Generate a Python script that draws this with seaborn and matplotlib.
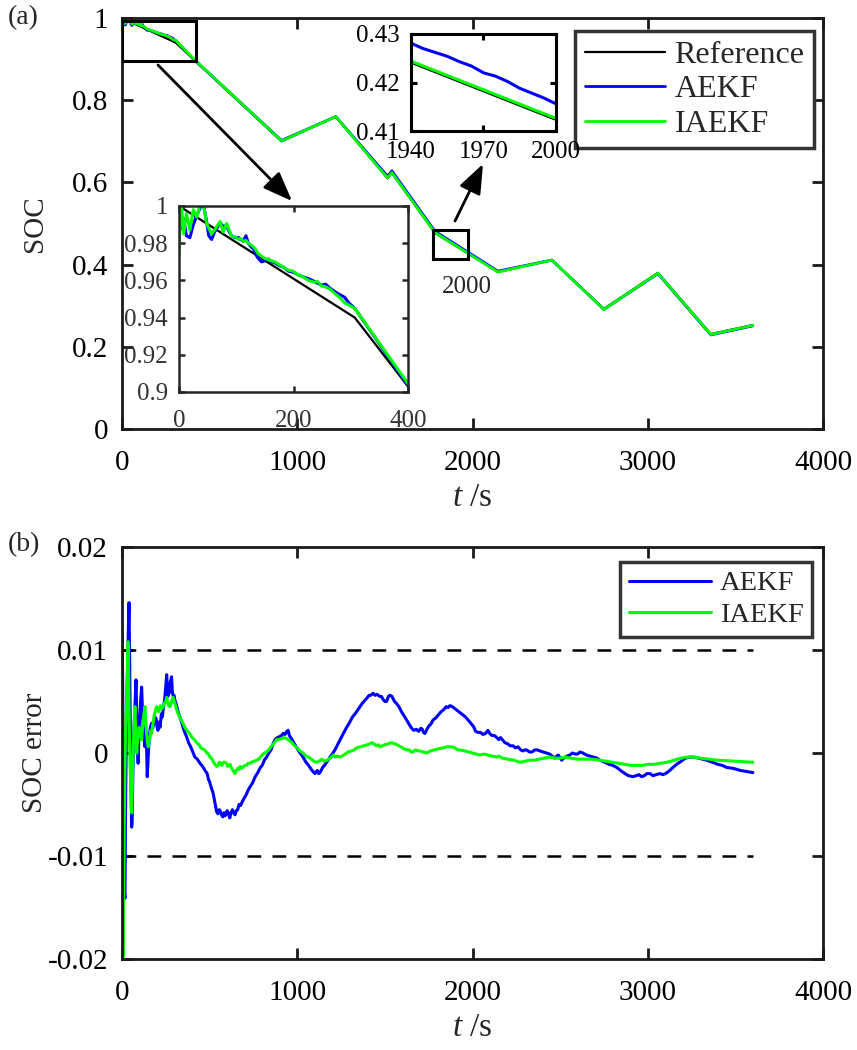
import numpy as np
import matplotlib
matplotlib.use("Agg")
import matplotlib.pyplot as plt
import seaborn as sns
from matplotlib.patches import Rectangle, FancyArrowPatch

# ---------------- data ----------------
# Reference SOC (piecewise profile)
ref_t = [0, 307, 910, 1220, 1515, 1540, 1786, 2145, 2453, 2750, 3058, 3360, 3600]
ref_soc = [1.0, 0.940, 0.700, 0.760, 0.610, 0.623, 0.477, 0.382, 0.411, 0.292, 0.380, 0.231, 0.253]

# Estimated SOC, first 400 s (zoomed inset 1)
early_t = [0, 2, 4, 8, 13, 19, 25, 31, 37, 42, 48, 52, 57, 62, 66, 72, 77, 83, 88, 92, 98, 104,
           108, 112, 117, 121, 126, 130, 134, 138, 144, 150, 156, 162, 167, 175, 183, 191, 199,
           208, 216, 226, 236, 242, 249, 256, 263, 272, 280, 289, 298, 307, 400]
early_aekf = [0.985, 0.996, 0.988, 0.993, 0.984, 0.983, 0.990, 0.995, 0.999, 1.002, 0.992, 0.984,
              0.982, 0.986, 0.988, 0.991, 0.989, 0.9895, 0.986, 0.984, 0.983, 0.983, 0.982, 0.981,
              0.984, 0.980, 0.978, 0.977, 0.974, 0.972, 0.970, 0.9705, 0.9715, 0.9700, 0.9695,
              0.968, 0.967, 0.965, 0.9645, 0.963, 0.962, 0.961, 0.9595, 0.9585, 0.9575, 0.958,
              0.956, 0.954, 0.9525, 0.951, 0.9475, 0.945, 0.9036]
early_iaekf = [0.9736, 0.995, 1.001, 0.985, 0.996, 0.987, 0.998, 0.994, 1.001, 1.002, 0.991, 0.988,
               0.985, 0.987, 0.989, 0.9916, 0.986, 0.9906, 0.987, 0.9836, 0.9835, 0.982, 0.9825,
               0.981, 0.9815, 0.980, 0.979, 0.978, 0.9765, 0.9745, 0.973, 0.9718, 0.9712, 0.9705,
               0.970, 0.9685, 0.967, 0.9655, 0.965, 0.963, 0.962, 0.960, 0.959, 0.9595, 0.957,
               0.9565, 0.9555, 0.953, 0.951, 0.948, 0.9465, 0.945, 0.9045]

# Estimated SOC after 400 s
late_t = [910, 1220, 1515, 1540, 1786, 2145, 2453, 2750, 3058, 3360, 3600]
late_aekf = [0.702, 0.760, 0.615, 0.628, 0.481, 0.384, 0.411, 0.291, 0.378, 0.229, 0.251]
late_iaekf = [0.701, 0.760, 0.611, 0.624, 0.478, 0.382, 0.411, 0.291, 0.379, 0.230, 0.252]

# Zoomed inset 2 (1940-2000 s)
z_ref_t = [1940, 2000]
z_ref = [0.4241, 0.4123]
z_iaekf = [0.4244, 0.4126]
z_aekf_t = [1940, 1945, 1950, 1955, 1960, 1965, 1970, 1975, 1980, 1985, 1990, 1995, 2000]
z_aekf = [0.4281, 0.4270, 0.4262, 0.4254, 0.4243, 0.4234, 0.4220, 0.4213, 0.4202, 0.4188,
          0.4178, 0.4168, 0.4156]

# SOC error, (time s, error x 1e-3) samples
err_aekf_pts = [
    (0, 5.0), (2, 11.6), (8, -5.0), (12, -13), (17, -14.1), (21, -4), (25, 2.0), (32, 9.0),
    (36, 12), (40, 14.6), (44, 8), (47, 3.0), (51, -3), (55, -7.2), (58, -6.5), (62, -2.0),
    (66, 1), (70, 3.0), (75, 5), (80, 7.1), (86, 2.0), (92, -1.0), (96, 1.5), (100, 3.0),
    (106, 5), (112, 6.4), (116, 4.5), (120, 3.0), (126, 1.5), (131, 0.6), (137, 2.0), (141, 0),
    (144, -2.3), (149, -0.5), (155, 1.5), (162, 2.5), (169, 2.9), (175, 2.4), (180, 2.7),
    (188, 3.5), (195, 3.3), (200, 2.6), (205, 2.2), (211, 3.0), (217, 2.5), (225, 3.8),
    (230, 3.5), (235, 4.2), (240, 4.8), (245, 5.5), (250, 6.5), (255, 7.6), (259, 6.0),
    (262, 5.5), (266, 6.2), (270, 5.8), (274, 6.8), (277, 7.0), (283, 7.4), (287, 6.0),
    (292, 5.5), (297, 5.6), (302, 5.1), (310, 4.7), (320, 4.0), (330, 3.5), (340, 3.0),
    (348, 2.5), (358, 2.0), (368, 1.6), (380, 1.0), (392, 0.6), (404, 0.1), (416, -0.4),
    (430, -0.6), (445, -1.0), (460, -1.3), (474, -1.7), (486, -2.0), (494, -2.6), (500, -2.8),
    (510, -3.4), (520, -3.9), (528, -4.6), (534, -5.1), (540, -5.7), (548, -5.9), (555, -5.5),
    (560, -5.6), (568, -6.0), (575, -6.2), (582, -5.8), (588, -6.1), (594, -5.9), (600, -5.6),
    (607, -5.9), (615, -6.3), (622, -5.8), (630, -5.5), (637, -5.8), (645, -6.0), (652, -5.6),
    (660, -5.5), (668, -5.0), (676, -5.1), (690, -4.6), (700, -4.3), (710, -4.0), (720, -3.6),
    (730, -3.3), (745, -2.9), (760, -2.3), (775, -1.9), (790, -1.4), (800, -1.2), (812, -0.7),
    (825, -0.4), (838, 0.0), (850, 0.3), (862, 0.9), (873, 1.3), (887, 1.5), (900, 1.6),
    (910, 1.7), (920, 1.9), (930, 1.8), (940, 2.1), (948, 2.2), (955, 1.7), (967, 1.4),
    (980, 1.0), (998, 0.5), (1016, 0.0), (1033, -0.4), (1050, -0.9), (1065, -1.2),
    (1080, -1.6), (1090, -1.8), (1101, -2.0), (1108, -1.8), (1115, -1.7), (1122, -2.0),
    (1130, -1.9), (1145, -1.4), (1160, -1.1), (1175, -0.7), (1187, -0.4), (1200, -0.1),
    (1215, 0.3), (1230, 0.8), (1245, 1.3), (1260, 1.8), (1282, 2.5), (1300, 3.0), (1315, 3.5),
    (1330, 3.8), (1350, 4.3), (1370, 4.8), (1385, 5.1), (1396, 5.3), (1410, 5.6), (1420, 5.6),
    (1432, 5.8), (1444, 5.6), (1455, 5.7), (1470, 5.5), (1480, 5.5), (1490, 5.2), (1500, 5.0),
    (1510, 5.0), (1520, 5.5), (1530, 5.6), (1540, 5.5), (1555, 5.0), (1567, 4.8), (1580, 4.5),
    (1595, 4.0), (1610, 3.6), (1624, 3.2), (1638, 2.8), (1653, 2.4), (1665, 2.2), (1680, 2.3),
    (1692, 2.1), (1705, 2.4), (1714, 2.3), (1720, 2.0), (1729, 1.9), (1740, 2.3), (1750, 2.6),
    (1762, 2.8), (1775, 3.2), (1790, 3.4), (1805, 3.7), (1820, 4.0), (1835, 4.2), (1850, 4.5),
    (1860, 4.4), (1871, 4.6), (1885, 4.5), (1900, 4.3), (1915, 4.1), (1930, 3.9), (1946, 3.7),
    (1960, 3.5), (1975, 3.2), (1990, 2.9), (2005, 2.6), (2018, 2.1), (2031, 2.0), (2045, 2.0),
    (2060, 1.8), (2075, 1.9), (2088, 2.2), (2098, 1.9), (2110, 1.7), (2125, 1.7), (2138, 1.5),
    (2150, 1.3), (2160, 1.5), (2170, 1.3), (2185, 1.0), (2200, 0.9), (2215, 0.7), (2231, 0.7),
    (2245, 0.5), (2260, 0.6), (2275, 0.3), (2288, 0.2), (2300, 0.3), (2309, 0.3), (2325, 0.1),
    (2340, 0.1), (2355, 0.3), (2370, 0.3), (2385, 0.2), (2403, 0.1), (2420, 0.0), (2440, -0.1),
    (2455, -0.3), (2470, -0.5), (2480, -0.3), (2490, -0.2), (2500, -0.5), (2509, -0.7),
    (2520, -0.5), (2540, -0.3), (2555, -0.2), (2570, 0.0), (2585, -0.1), (2600, -0.1),
    (2613, 0.1), (2630, 0.0), (2650, -0.2), (2670, -0.3), (2690, -0.4), (2710, -0.5),
    (2727, -0.7), (2755, -0.9), (2780, -1.1), (2800, -1.2), (2823, -1.4), (2845, -1.7),
    (2870, -2.0), (2890, -2.2), (2916, -2.3), (2935, -2.2), (2950, -2.1), (2965, -2.3),
    (2980, -2.2), (2995, -2.0), (3013, -2.0), (3030, -2.2), (3050, -2.1), (3068, -2.0),
    (3087, -2.1), (3100, -2.0), (3110, -1.9), (3125, -1.7), (3144, -1.4), (3165, -1.1),
    (3190, -0.8), (3215, -0.5), (3241, -0.4), (3265, -0.4), (3290, -0.5), (3313, -0.6),
    (3336, -0.7), (3370, -0.9), (3400, -1.1), (3425, -1.2), (3450, -1.4), (3490, -1.5),
    (3530, -1.7), (3565, -1.8), (3600, -1.9)]
err_iaekf_pts = [
    (0, 5.4), (3, -5.0), (6, -19.8), (9, -14), (12, -8.0), (16, -2), (20, 2.0), (24, 4),
    (28, 6.0), (32, 9), (35, 10.8), (38, 7), (42, 2.0), (46, -1), (50, -3.0), (55, -5.8),
    (58, -4), (62, -1.0), (65, 1), (68, 2.0), (71, 3.5), (74, 4.5), (78, 2), (84, 0.0),
    (90, 1.5), (98, 2.5), (104, 1.8), (112, 1.3), (116, 2.2), (120, 3.0), (125, 3.8), (131, 4.5),
    (135, 3.2), (140, 2.0), (145, 1.0), (150, 0.6), (155, 1.2), (160, 1.5), (165, 2.2),
    (169, 1.9), (175, 2.6), (180, 3.2), (186, 3.8), (192, 4.2), (198, 4.5), (204, 4.2),
    (210, 4.0), (215, 4.4), (220, 4.6), (228, 4.3), (235, 4.5), (240, 4.7), (245, 4.9),
    (250, 5.0), (255, 5.4), (260, 5.0), (265, 4.6), (270, 4.8), (274, 4.5), (279, 4.7),
    (283, 5.0), (288, 5.3), (292, 5.4), (300, 4.9), (306, 4.6), (312, 4.2), (320, 3.8),
    (330, 3.5), (338, 3.2), (348, 2.9), (358, 2.5), (370, 2.2), (380, 2.0), (390, 1.8),
    (400, 1.5), (413, 1.3), (426, 1.0), (440, 0.8), (450, 0.5), (460, 0.4), (472, 0.3),
    (485, 0.0), (494, -0.1), (502, -0.4), (510, -0.5), (520, -0.8), (530, -1.1), (540, -1.3),
    (548, -1.2), (555, -0.9), (563, -1.0), (570, -1.2), (578, -0.9), (588, -0.9), (596, -1.0),
    (603, -1.3), (610, -1.2), (617, -1.1), (623, -1.4), (630, -1.6), (638, -1.8), (645, -2.0),
    (652, -1.7), (660, -1.5), (667, -1.6), (675, -1.3), (683, -1.5), (690, -1.4), (700, -1.2),
    (710, -1.2), (720, -1.0), (730, -1.0), (740, -0.9), (750, -0.8), (758, -0.8), (768, -0.7),
    (780, -0.6), (790, -0.4), (800, -0.2), (805, -0.1), (815, 0.0), (825, 0.1), (838, 0.3),
    (850, 0.6), (860, 0.8), (870, 1.0), (883, 1.3), (897, 1.3), (910, 1.4), (925, 1.5),
    (940, 1.4), (955, 1.2), (970, 1.0), (985, 0.7), (1000, 0.5), (1016, 0.2), (1033, 0.0),
    (1050, -0.3), (1065, -0.4), (1080, -0.6), (1095, -0.8), (1111, -0.9), (1125, -0.8),
    (1140, -0.6), (1155, -0.8), (1170, -0.7), (1188, -0.5), (1205, -0.2), (1218, -0.4),
    (1230, -0.3), (1244, -0.4), (1265, -0.2), (1290, 0.1), (1310, 0.2), (1325, 0.3),
    (1339, 0.5), (1360, 0.6), (1380, 0.7), (1400, 0.8), (1415, 0.9), (1425, 1.0), (1437, 0.9),
    (1450, 0.7), (1462, 0.8), (1472, 0.6), (1485, 0.7), (1500, 0.8), (1520, 0.9), (1539, 1.0),
    (1555, 0.9), (1570, 0.8), (1580, 0.7), (1600, 0.5), (1624, 0.3), (1640, 0.3), (1650, 0.1),
    (1660, 0.1), (1675, 0.3), (1690, 0.2), (1700, 0.2), (1720, 0.1), (1738, 0.0), (1760, 0.2),
    (1780, 0.3), (1805, 0.4), (1830, 0.5), (1855, 0.6), (1881, 0.6), (1900, 0.5), (1915, 0.3),
    (1930, 0.3), (1955, 0.2), (1980, 0.1), (2000, 0.0), (2020, -0.1), (2043, -0.2),
    (2065, -0.1), (2090, -0.2), (2115, -0.3), (2138, -0.4), (2150, -0.3), (2170, -0.5),
    (2200, -0.6), (2235, -0.7), (2271, -0.9), (2300, -0.8), (2328, -0.7), (2355, -0.7),
    (2380, -0.6), (2410, -0.5), (2442, -0.4), (2470, -0.5), (2500, -0.5), (2530, -0.4),
    (2560, -0.5), (2600, -0.6), (2632, -0.6), (2680, -0.6), (2727, -0.7), (2765, -0.8),
    (2800, -0.9), (2835, -1.0), (2870, -1.1), (2905, -1.2), (2937, -1.2), (2970, -1.2),
    (3000, -1.1), (3035, -1.1), (3070, -1.0), (3110, -0.9), (3150, -0.7), (3190, -0.5),
    (3222, -0.4), (3260, -0.4), (3300, -0.5), (3350, -0.6), (3400, -0.7), (3450, -0.75),
    (3500, -0.8), (3550, -0.85), (3600, -0.9)]

bound_t = [0, 3600]
bound_levels = [0.01, -0.01]

x_ticks = [0, 1000, 2000, 3000, 4000]
x_ticklabels = ["0", "1000", "2000", "3000", "4000"]
soc_ticks = [0, 0.2, 0.4, 0.6, 0.8, 1.0]
soc_ticklabels = ["0", "0.2", "0.4", "0.6", "0.8", "1"]
err_ticks = [-0.02, -0.01, 0, 0.01, 0.02]
err_ticklabels = ["-0.02", "-0.01", "0", "0.01", "0.02"]
in1_xticks = [0, 200, 400]
in1_yticks = [0.9, 0.92, 0.94, 0.96, 0.98, 1.0]
in1_yticklabels = ["0.9", "0.92", "0.94", "0.96", "0.98", "1"]
in2_xticks = [1940, 1970, 2000]
in2_yticks = [0.41, 0.42, 0.43]

C_REF, C_AEKF, C_IAEKF = "black", "#0000FF", "#00FF00"

# ---------------- style ----------------
sns.set_theme(style="white")
plt.rcParams["font.family"] = ["Liberation Serif", "DejaVu Serif"]
plt.rcParams["mathtext.fontset"] = "custom"
plt.rcParams["mathtext.it"] = "Liberation Serif:italic"
plt.rcParams["mathtext.rm"] = "Liberation Serif"
plt.rcParams["axes.unicode_minus"] = False

W, H = 857, 1050
fig = plt.figure(figsize=(W / 100, H / 100), dpi=100)


def fx(px):
    return px / W


def fy(py):
    return 1 - py / H


def style_axes(ax, lw=2.0, color="#1a1a1a", ticklen=8, size=21, pad=8, labelcolor="black"):
    for s in ax.spines.values():
        s.set_visible(True)
        s.set_linewidth(lw)
        s.set_color(color)
    ax.tick_params(axis="both", which="major", direction="in", length=ticklen, width=lw,
                   top=True, right=True, bottom=True, left=True, labelsize=size,
                   color=color, labelcolor=labelcolor, pad=pad)
    ax.grid(False)
    ax.set_facecolor("white")


def line(ax, x, y, color, lw, zorder=2):
    sns.lineplot(x=np.asarray(x, float), y=np.asarray(y, float), ax=ax, color=color,
                 linewidth=lw, estimator=None, sort=False, legend=False, zorder=zorder)
    return ax.lines[-1]


# ---------------- panel (a) ----------------
ax1 = fig.add_axes([fx(122), fy(429), (823 - 122) / W, (429 - 18) / H])
est_t = early_t + late_t
h_ref = line(ax1, ref_t, ref_soc, C_REF, 1.6)
h_a = line(ax1, est_t, early_aekf + late_aekf, C_AEKF, 2.0)
h_i = line(ax1, est_t, early_iaekf + late_iaekf, C_IAEKF, 2.0)
ax1.set_xlim(0, 4000)
ax1.set_ylim(0, 1)
ax1.set_xticks(x_ticks)
ax1.set_xticklabels(x_ticklabels)
ax1.set_yticks(soc_ticks)
ax1.set_yticklabels(soc_ticklabels)
style_axes(ax1, pad=10)
ax1.tick_params(axis="x", pad=15)
ax1.set_xlabel(r"$t$ /s", fontsize=24)
ax1.set_ylabel("SOC", fontsize=21)
ax1.xaxis.set_label_coords(0.5, -0.13)
ax1.yaxis.set_label_coords(-0.105, 0.5)

# zoom-region boxes
ax1.add_patch(Rectangle((0, 0.895), 420, 0.098, fill=False, ec="black", lw=2.2, zorder=5))
ax1.add_patch(Rectangle((1775, 0.414), 199, 0.070, fill=False, ec="black", lw=2.2, zorder=5))

leg1 = ax1.legend([h_ref, h_a, h_i], ["Reference", "AEKF", "IAEKF"], loc="upper right",
                  bbox_to_anchor=(fx(814), fy(31)), bbox_transform=fig.transFigure,
                  fontsize=23, frameon=True, fancybox=False, edgecolor="#333333",
                  framealpha=1, borderpad=0.3, labelspacing=0.16, handlelength=2.5,
                  handletextpad=0.3, borderaxespad=0)
leg1.get_frame().set_linewidth(2.5)

# inset 1
in1 = fig.add_axes([fx(179), fy(392), (408 - 179) / W, (392 - 206) / H])
line(in1, ref_t, ref_soc, C_REF, 1.6)
line(in1, early_t, early_aekf, C_AEKF, 2.2)
line(in1, early_t, early_iaekf, C_IAEKF, 2.2)
in1.set_xlim(0, 400)
in1.set_ylim(0.9, 1.0)
in1.set_xticks(in1_xticks)
in1.set_xticklabels([str(v) for v in in1_xticks])
in1.set_yticks(in1_yticks)
in1.set_yticklabels(in1_yticklabels)
style_axes(in1, lw=1.8, color="#262626", ticklen=4, size=18, pad=8, labelcolor="#333333")
in1.tick_params(axis="x", pad=13)

# inset 2
in2 = fig.add_axes([fx(411), fy(131), (556 - 411) / W, (131 - 34) / H])
line(in2, z_ref_t, z_ref, C_REF, 1.6)
line(in2, z_aekf_t, z_aekf, C_AEKF, 2.2)
line(in2, z_ref_t, z_iaekf, C_IAEKF, 2.2)
in2.set_xlim(1940, 2000)
in2.set_ylim(0.41, 0.43)
in2.set_xticks(in2_xticks)
in2.set_xticklabels([str(v) for v in in2_xticks])
in2.set_yticks(in2_yticks)
in2.set_yticklabels(["0.41", "0.42", "0.43"])
style_axes(in2, lw=2.2, color="black", ticklen=4, size=18, pad=8)
in2.tick_params(axis="x", pad=7)

# stray inset label and arrows
fig.text(fx(467), fy(287), "2000", fontsize=18, color="#262626", ha="center", va="center")
for (x0, y0, x1, y1) in [(158, 65, 292, 201), (455, 221, 483, 164)]:
    arr = FancyArrowPatch((fx(x0), fy(y0)), (fx(x1), fy(y1)), transform=fig.transFigure,
                          arrowstyle="-|>,head_length=0.9,head_width=0.35", mutation_scale=20,
                          lw=2.0, color="black", shrinkA=0, shrinkB=0)
    fig.add_artist(arr)

fig.text(fx(8), fy(18), "(a)", fontsize=20, ha="left", va="center")

# ---------------- panel (b) ----------------
ax2 = fig.add_axes([fx(122), fy(959), (823 - 122) / W, (959 - 547) / H])
for lvl in bound_levels:
    ln = line(ax2, bound_t, [lvl, lvl], "black", 1.8, zorder=1)
    ln.set_linestyle((0, (5.5, 4.5)))
ea_t, ea_v = zip(*err_aekf_pts)
ei_t, ei_v = zip(*err_iaekf_pts)
hb = line(ax2, ea_t, np.asarray(ea_v) * 1e-3, C_AEKF, 2.2)
hg = line(ax2, ei_t, np.asarray(ei_v) * 1e-3, C_IAEKF, 2.2)
ax2.set_xlim(0, 4000)
ax2.set_ylim(-0.02, 0.02)
ax2.set_xticks(x_ticks)
ax2.set_xticklabels(x_ticklabels)
ax2.set_yticks(err_ticks)
ax2.set_yticklabels(err_ticklabels)
style_axes(ax2, pad=10)
ax2.tick_params(axis="x", pad=15)
ax2.set_xlabel(r"$t$ /s", fontsize=24)
ax2.set_ylabel("SOC error", fontsize=21)
ax2.xaxis.set_label_coords(0.5, -0.13)
ax2.yaxis.set_label_coords(-0.105, 0.5)

leg2 = ax2.legend([hb, hg], ["AEKF", "IAEKF"], loc="upper right",
                  bbox_to_anchor=(fx(812), fy(562)), bbox_transform=fig.transFigure,
                  fontsize=20.5, frameon=True, fancybox=False, edgecolor="#333333",
                  framealpha=1, borderpad=0.3, labelspacing=0.2, handlelength=2.9,
                  handletextpad=0.3, borderaxespad=0)
leg2.get_frame().set_linewidth(2.5)

fig.text(fx(8), fy(545), "(b)", fontsize=20, ha="left", va="center")

fig.savefig("out.png", dpi=100, facecolor="white")
